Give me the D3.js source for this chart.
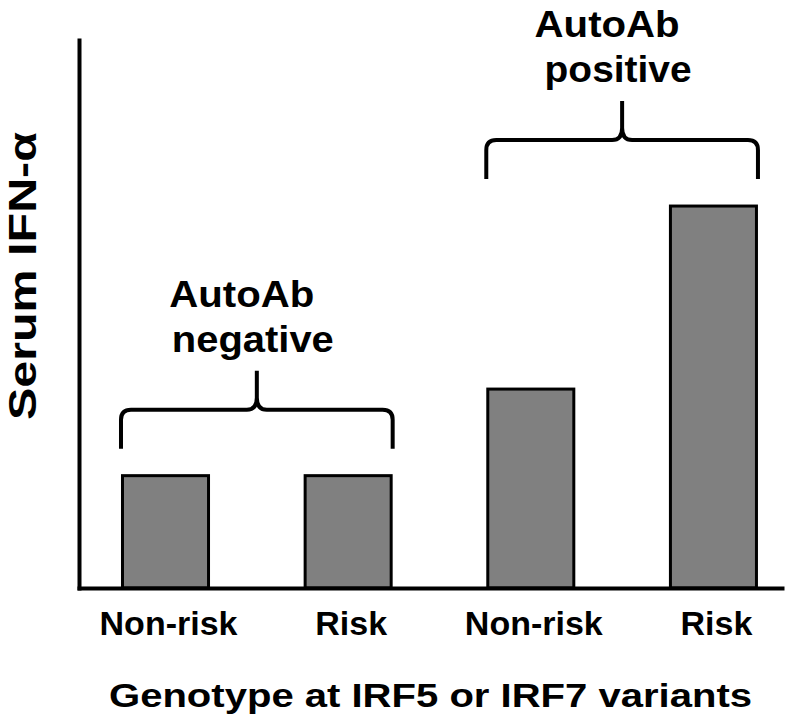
<!DOCTYPE html>
<html>
<head>
	<meta charset="UTF-8" />
	<title>IFN-alpha by genotype</title>
	<script src="https://d3js.org/d3.v7.min.js"></script>
	<style type="text/css">
		body{margin:0; background:#fff;}
		text{font-family:"Liberation Sans", Arial, sans-serif; font-weight:bold; fill:#000;}
		.bar{fill:#808080; stroke:#000; stroke-width:3;}
		.brace{fill:none; stroke:#000; stroke-width:4; stroke-linecap:butt;}
	</style>
</head>
<body>
	<svg id="chart"></svg>

	<script type="text/javascript">
	// data (no ticks on the y axis, so arbitrary units 0-100)
	var categories = ["neg-nonrisk", "neg-risk", "pos-nonrisk", "pos-risk"]
	var tickLabels = ["Non-risk", "Risk", "Non-risk", "Risk"]
	var values = [20.5, 20.5, 36.3, 69.7]
	var groups = [
		{lines: ["AutoAb", "negative"], from: 0, to: 1},
		{lines: ["AutoAb", "positive"], from: 2, to: 3}
	]

	// init window
	var w = 800
	var h = 726
	var plotLeft = 79, plotRight = 782, plotTop = 40, plotBottom = 588

	var svg = d3.select("#chart")
				.attr("width", w)
				.attr("height", h)

	// scales
	var xScale = d3.scaleBand()
					.domain(categories)
					.range([plotLeft, plotRight])
					.paddingInner(0.529)
					.paddingOuter(0.189)
					.align(0.63)
	var yScale = d3.scaleLinear().domain([0, 100]).range([plotBottom, plotTop])

	// bars
	svg.selectAll(".bar")
		.data(values)
		.enter()
		.append("rect")
		.attr("class", "bar")
		.attr("x", (d, i) => xScale(categories[i]))
		.attr("y", d => yScale(d))
		.attr("width", xScale.bandwidth())
		.attr("height", d => plotBottom - yScale(d))

	// axes
	var xAxis = svg.append("g")
		.attr("transform", "translate(0," + plotBottom + ")")
		.call(d3.axisBottom(xScale).tickSize(0).tickSizeOuter(0)
			.tickFormat((d, i) => tickLabels[i]))
	xAxis.select(".domain").attr("stroke-width", 4).attr("stroke-linecap", "square")
	xAxis.selectAll("text")
		.attr("y", 47).attr("dy", 0).attr("dx", 3)
		.style("font-size", "34px")
		.style("font-family", '"Liberation Sans", Arial, sans-serif')
		.style("font-weight", "bold")

	var yAxis = svg.append("g")
		.attr("transform", "translate(" + plotLeft + ",0)")
		.call(d3.axisLeft(yScale).ticks(0).tickSize(0).tickSizeOuter(0))
	yAxis.select(".domain").attr("stroke-width", 4).attr("stroke-linecap", "square")
	yAxis.selectAll(".tick").remove()

	// braces + group labels
	function bracePath(x0, x1, yB, yM, yT){
		var xc = (x0 + x1) / 2, r = 10
		var p = d3.path()
		p.moveTo(x0, yB)
		p.lineTo(x0, yM + r)
		p.quadraticCurveTo(x0, yM, x0 + r, yM)
		p.lineTo(xc - r, yM)
		p.quadraticCurveTo(xc, yM, xc, yM - 12)
		p.lineTo(xc, yT)
		p.moveTo(xc, yM - 12)
		p.quadraticCurveTo(xc, yM, xc + r, yM)
		p.lineTo(x1 - r, yM)
		p.quadraticCurveTo(x1, yM, x1, yM + r)
		p.lineTo(x1, yB)
		return p.toString()
	}

	var labelWidths = {"AutoAb": 145, "negative": 162, "positive": 147}
	var labelShift = [-15, -4]

	groups.forEach(g => {
		var x0 = xScale(categories[g.from]) - 1.5
		var x1 = xScale(categories[g.to]) + xScale.bandwidth() + 1.5
		var barTop = yScale(Math.max(values[g.from], values[g.to]))
		svg.append("path")
			.attr("class", "brace")
			.attr("d", bracePath(x0, x1, barTop - 27, barTop - 66, barTop - 105))
		var xc = (x0 + x1) / 2
		g.lines.forEach((t, i) => {
			svg.append("text")
				.attr("x", xc + labelShift[i])
				.attr("y", barTop - 169 + i * 45)
				.attr("text-anchor", "middle")
				.attr("textLength", labelWidths[t])
				.attr("lengthAdjust", "spacingAndGlyphs")
				.style("font-size", "37px")
				.text(t)
		})
	})

	// axis titles
	svg.append("text")
		.attr("x", 109)
		.attr("y", 707)
		.attr("textLength", 643)
		.attr("lengthAdjust", "spacingAndGlyphs")
		.style("font-size", "34px")
		.text("Genotype at IRF5 or IRF7  variants")

	svg.append("text")
		.attr("transform", "translate(36,276) rotate(-90)")
		.attr("text-anchor", "middle")
		.attr("textLength", 288)
		.attr("lengthAdjust", "spacingAndGlyphs")
		.style("font-size", "39px")
		.text("Serum IFN-\u03b1")
	</script>
</body>
</html>
